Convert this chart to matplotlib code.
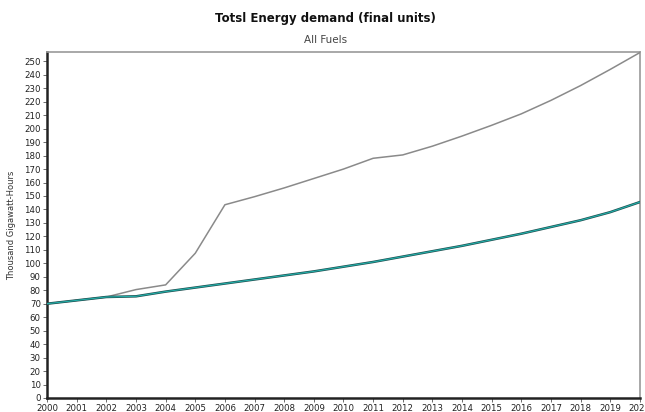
import matplotlib
matplotlib.use("Agg")
import matplotlib.pyplot as plt

years = list(range(2000, 2021))
gray_series = [70, 72.5, 75, 80.5, 84, 107.5, 143.5, 149.5, 156, 163, 170, 178, 180.5,
               187, 194.5, 202.5, 211, 221, 232, 244, 256.5]
teal_series = [70, 72.5, 75, 75.5, 79, 82, 85, 88, 91, 94, 97.5, 101, 105,
               109, 113, 117.5, 122, 127, 132, 138, 145.5]
ytick_vals = list(range(0, 251, 10))

fig = plt.figure(figsize=(6.45, 4.12), dpi=100)
ax = fig.add_axes([0.073, 0.034, 0.919, 0.840])

ax.plot(years, gray_series, color="#8a8a8a", lw=1.1, zorder=3)
ax.plot(years, teal_series, color="#1f4f50", lw=1.8, zorder=4)
ax.plot(years, teal_series, color="#22b0aa", lw=0.8, zorder=5)

ax.set_xlim(2000, 2020)
ax.set_ylim(0, 257)
ax.set_xticks(years)
ax.set_xticklabels([str(y) for y in years], fontsize=6.2, color="#222222")
ax.set_yticks(ytick_vals)
ax.set_yticklabels([str(v) for v in ytick_vals], fontsize=6.2, color="#222222")
ax.tick_params(axis="both", length=3, width=0.6, color="#555555", pad=1.5)

for side in ("left", "bottom"):
    ax.spines[side].set_color("#222222")
    ax.spines[side].set_linewidth(1.8)
for side in ("top", "right"):
    ax.spines[side].set_color("#999999")
    ax.spines[side].set_linewidth(1.2)

ax.set_ylabel("Thousand Gigawatt-Hours", fontsize=6, color="#333333")
ax.yaxis.set_label_coords(-0.052, 0.5)

fig.text(0.505, 0.955, "Totsl Energy demand (final units)", ha="center", va="center",
         fontsize=8.5, fontweight="bold", color="#111111")
fig.text(0.505, 0.903, "All Fuels", ha="center", va="center", fontsize=7.5, color="#444444")

fig.savefig("out.png", dpi=100)
